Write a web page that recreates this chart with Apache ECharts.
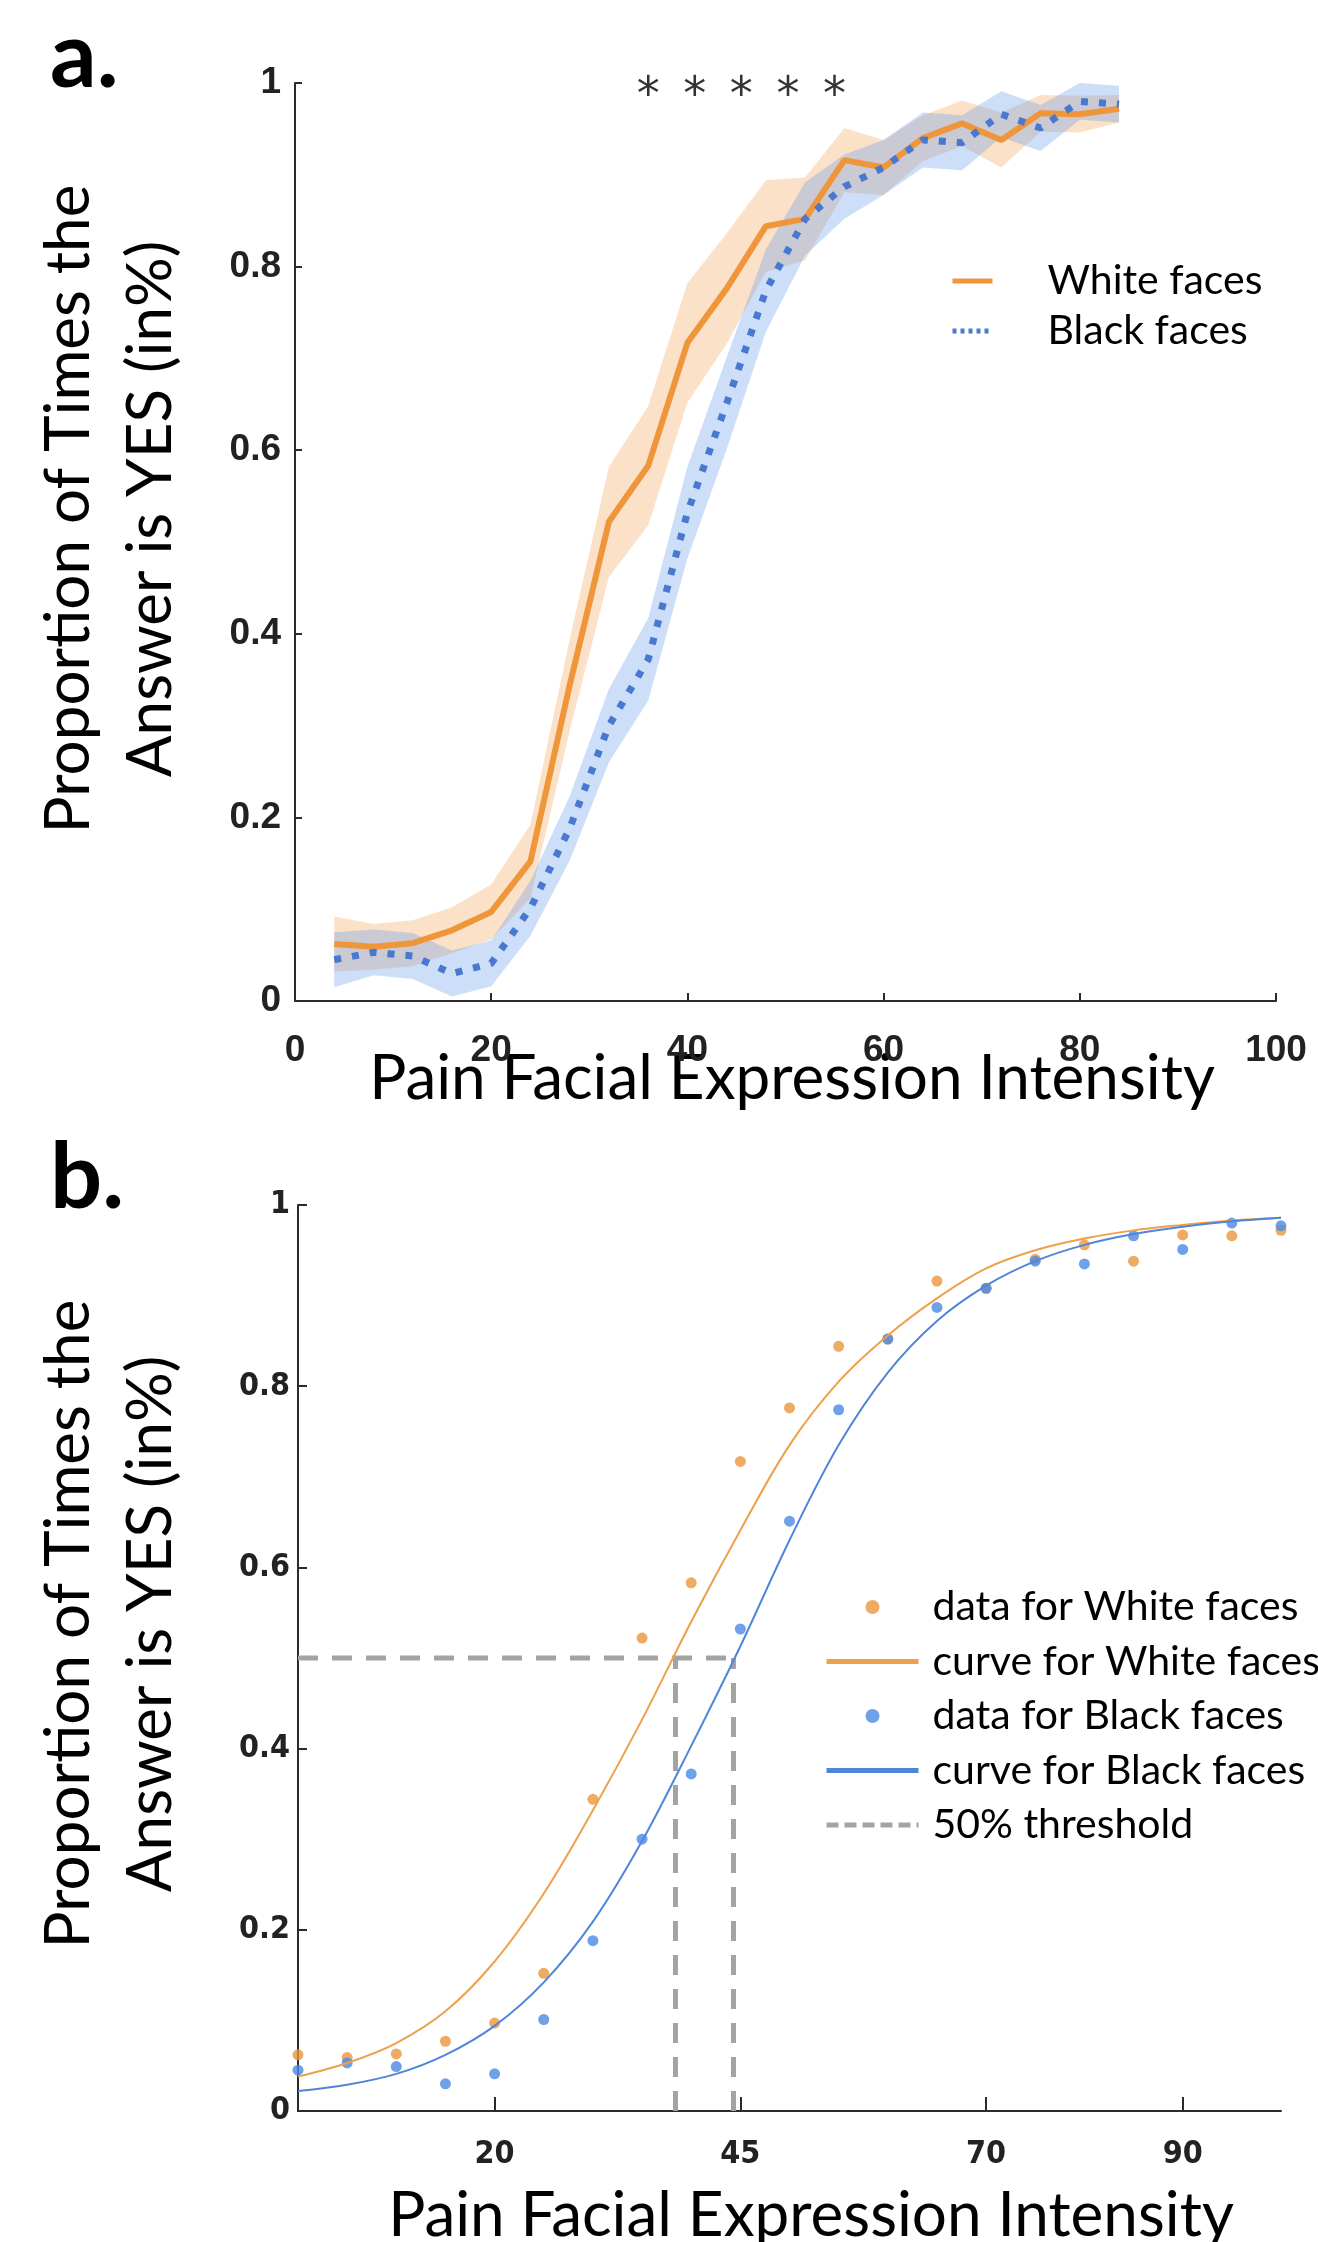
<!DOCTYPE html>
<html>
<head>
<meta charset="utf-8">
<title>Pain Facial Expression Intensity</title>
<script src="https://cdn.jsdelivr.net/npm/echarts/dist/echarts.min.js"></script>
<style>
  html, body { margin: 0; padding: 0; background: #fff; }
  #main { width: 1318px; height: 2242px; }
</style>
</head>
<body>
<div id="main"></div>
<script>
// intensity levels: panel a uses the raw scale, panel b the relabelled one
var intensityA = [4, 8, 12, 16, 20, 24, 28, 32, 36, 40, 44, 48, 52, 56, 60, 64, 68, 72, 76, 80, 84];
var intensityB = [0, 5, 10, 15, 20, 25, 30, 35, 40, 45, 50, 55, 60, 65, 70, 75, 80, 85, 90, 95, 100];

// proportion of YES answers (mean) and its error band
var whiteMean = [0.062, 0.059, 0.063, 0.077, 0.097, 0.152, 0.344, 0.522, 0.583, 0.717, 0.776, 0.844, 0.852, 0.916, 0.908, 0.940, 0.956, 0.938, 0.967, 0.966, 0.972];
var blackMean = [0.045, 0.053, 0.049, 0.030, 0.041, 0.101, 0.188, 0.300, 0.372, 0.532, 0.651, 0.774, 0.852, 0.887, 0.908, 0.938, 0.935, 0.966, 0.951, 0.980, 0.977];
var whiteSem = [0.030, 0.025, 0.025, 0.025, 0.030, 0.040, 0.050, 0.060, 0.065, 0.065, 0.060, 0.050, 0.045, 0.035, 0.030, 0.025, 0.025, 0.030, 0.020, 0.020, 0.015];
var blackSem = [0.030, 0.025, 0.025, 0.025, 0.025, 0.030, 0.035, 0.040, 0.045, 0.050, 0.050, 0.045, 0.040, 0.035, 0.030, 0.030, 0.030, 0.025, 0.025, 0.020, 0.020];

// fitted psychometric curves (read at the panel b intensities)
var whiteCurve = [0.038, 0.053, 0.075, 0.110, 0.165, 0.240, 0.332, 0.432, 0.540, 0.641, 0.735, 0.805, 0.856, 0.897, 0.930, 0.950, 0.963, 0.972, 0.978, 0.983, 0.986];
var blackCurve = [0.022, 0.029, 0.041, 0.062, 0.094, 0.142, 0.209, 0.298, 0.403, 0.513, 0.630, 0.735, 0.815, 0.872, 0.911, 0.938, 0.956, 0.968, 0.976, 0.982, 0.986];

// 50% thresholds of the two curves
var whiteThreshold = 38.4;
var blackThreshold = 44.3;

// significance stars above panel a
var starX = [36, 40.75, 45.5, 50.25, 55];
var starY = 0.985;

// tick values of panel b
var ticksB = [20, 45, 70, 90];

var orange = '#ef953a';
var blue = '#4878cf';
var orangeBand = 'rgba(245,170,100,0.35)';
var blueBand = 'rgba(110,160,235,0.35)';
var txtFont = 'Lato, "Open Sans", sans-serif';
var axisCol = '#2b2b2b';

function pairs(xs, ys) {
	return xs.map(function (x, i) { return [x, ys[i]]; });
}

var whiteLow = whiteMean.map(function (v, i) { return v - whiteSem[i]; });
var whiteHigh = whiteMean.map(function (v, i) { return v + whiteSem[i]; });
var blackLow = blackMean.map(function (v, i) { return v - blackSem[i]; });
var blackHigh = blackMean.map(function (v, i) { return v + blackSem[i]; });

var myChart = echarts.init(document.getElementById('main'));

function yAxisCfg(grid, font, size, margin, tickLen) {
	return {
		gridIndex: grid, type: 'value', min: 0, max: 1, interval: 0.2,
		axisLine: { show: true, lineStyle: { color: axisCol, width: 2 } },
		axisTick: { show: true, inside: true, length: tickLen, lineStyle: { color: axisCol, width: 2 } },
		axisLabel: { fontFamily: font, fontWeight: 'bold', fontSize: size, color: '#222', margin: margin },
		splitLine: { show: false }
	};
}

// shaded error band drawn as one polygon through the axis scales
function band(name, lo, hi, color) {
	return {
		name: name, type: 'custom', xAxisIndex: 0, yAxisIndex: 0, silent: true,
		data: intensityA.map(function (x, i) { return [x, lo[i], hi[i]]; }),
		encode: { x: 0, y: [1, 2] },
		renderItem: function (params, api) {
			if (params.dataIndex !== 0) return null;
			var pts = [];
			for (var i = 0; i < intensityA.length; i++) pts.push(api.coord([intensityA[i], hi[i]]));
			for (var j = intensityA.length - 1; j >= 0; j--) pts.push(api.coord([intensityA[j], lo[j]]));
			return { type: 'polygon', shape: { points: pts }, style: { fill: color } };
		}
	};
}

// hide the symbol that line series put in the middle of their legend icon
var lineLegendItem = { opacity: 0 };

var option = {
	animation: false,
	backgroundColor: '#fff',
	grid: [
		{ left: 295, top: 83, width: 981, height: 918, outerBoundsMode: 'none' },
		{ left: 298, top: 1205, width: 983, height: 906, outerBoundsMode: 'none' }
	],
	xAxis: [
		{
			gridIndex: 0, type: 'value', min: 0, max: 100, interval: 20,
			axisLine: { show: true, lineStyle: { color: axisCol, width: 2 } },
			axisTick: { show: true, inside: true, length: 8, lineStyle: { color: axisCol, width: 2 } },
			axisLabel: { fontFamily: '"Liberation Sans", Arial, sans-serif', fontWeight: 'bold', fontSize: 37, color: '#222', margin: 31 },
			splitLine: { show: false }
		},
		{
			gridIndex: 1, type: 'value', min: 0, max: 100,
			axisLine: { show: true, lineStyle: { color: axisCol, width: 2 } },
			axisTick: { show: true, inside: true, length: 14, customValues: ticksB, lineStyle: { color: axisCol, width: 2 } },
			axisLabel: { customValues: ticksB, fontFamily: '"Liberation Sans Narrow", "DejaVu Sans Condensed", "Liberation Sans", sans-serif', fontWeight: 'bold', fontSize: 32, color: '#222', margin: 28 },
			splitLine: { show: false }
		}
	],
	yAxis: [
		yAxisCfg(0, '"Liberation Sans", Arial, sans-serif', 37, 14, 7),
		yAxisCfg(1, '"Liberation Sans Narrow", "DejaVu Sans Condensed", "Liberation Sans", sans-serif', 32, 8, 9)
	],
	legend: [
		{
			orient: 'vertical', left: 950, top: 259, padding: 0, itemWidth: 40, itemHeight: 14, itemGap: 6,
			selectedMode: false,
			data: [
				{ name: 'White faces', itemStyle: lineLegendItem },
				{ name: 'Black faces', itemStyle: lineLegendItem, lineStyle: { type: [4, 4] } }
			],
			lineStyle: { width: 5 },
			textStyle: { fontFamily: txtFont, fontSize: 41, lineHeight: 44, color: '#000', padding: [0, 0, 0, 50] }
		},
		{
			orient: 'vertical', left: 824, top: 1585, padding: 0, itemWidth: 92, itemHeight: 14, itemGap: 10.5,
			selectedMode: false,
			data: [
				'data for White faces',
				{ name: 'curve for White faces', itemStyle: lineLegendItem },
				'data for Black faces',
				{ name: 'curve for Black faces', itemStyle: lineLegendItem },
				{ name: '50% threshold', itemStyle: lineLegendItem, lineStyle: { type: [12, 6] } }
			],
			lineStyle: { width: 5 },
			textStyle: { fontFamily: txtFont, fontSize: 41, lineHeight: 44, color: '#000', padding: [0, 0, 0, 9] }
		}
	],
	graphic: { elements: [
		{ type: 'text', x: 50, y: 57, style: { text: 'a.', font: 'bold 92px ' + txtFont, fill: '#000', align: 'left', verticalAlign: 'middle' } },
		{ type: 'text', x: 50, y: 1178, style: { text: 'b.', font: 'bold 92px ' + txtFont, fill: '#000', align: 'left', verticalAlign: 'middle' } },
		{ type: 'text', x: 110, y: 509, rotation: Math.PI / 2, style: { text: 'Proportion of Times the\nAnswer is YES (in%)', font: '62px ' + txtFont, lineHeight: 82, fill: '#000', align: 'center', verticalAlign: 'middle' } },
		{ type: 'text', x: 110, y: 1624, rotation: Math.PI / 2, style: { text: 'Proportion of Times the\nAnswer is YES (in%)', font: '62px ' + txtFont, lineHeight: 82, fill: '#000', align: 'center', verticalAlign: 'middle' } },
		{ type: 'text', x: 792, y: 1079, style: { text: 'Pain Facial Expression Intensity', font: '62px ' + txtFont, fill: '#000', align: 'center', verticalAlign: 'middle' } },
		{ type: 'text', x: 811, y: 2216, style: { text: 'Pain Facial Expression Intensity', font: '62px ' + txtFont, fill: '#000', align: 'center', verticalAlign: 'middle' } }
	] },
	series: [
		// panel a: error bands
		band('whiteBand', whiteLow, whiteHigh, orangeBand),
		band('blackBand', blackLow, blackHigh, blueBand),
		// panel a: mean lines
		{
			name: 'White faces', type: 'line', xAxisIndex: 0, yAxisIndex: 0,
			data: pairs(intensityA, whiteMean), symbol: 'none',
			itemStyle: { color: orange },
			lineStyle: { color: orange, width: 6 }
		},
		{
			name: 'Black faces', type: 'line', xAxisIndex: 0, yAxisIndex: 0,
			data: pairs(intensityA, blackMean), symbol: 'none',
			itemStyle: { color: blue },
			lineStyle: { color: blue, width: 7, type: [7, 11] }
		},
		{
			name: 'stars', type: 'scatter', xAxisIndex: 0, yAxisIndex: 0,
			data: starX.map(function (x) { return [x, starY]; }),
			symbolSize: 1, itemStyle: { color: 'transparent' }, silent: true,
			label: { show: true, position: 'inside', formatter: '*', fontFamily: '"DejaVu Sans", sans-serif', fontSize: 46, color: '#000' }
		},
		// panel b: thresholds
		{
			name: '50% threshold', type: 'line', xAxisIndex: 1, yAxisIndex: 1,
			data: [[0, 0.5], [blackThreshold, 0.5]], symbol: 'none',
			itemStyle: { color: '#a3a3a3' },
			lineStyle: { color: '#a3a3a3', width: 5, type: [20, 14] }
		},
		{
			name: '50% threshold', type: 'line', xAxisIndex: 1, yAxisIndex: 1,
			data: [[whiteThreshold, 0], [whiteThreshold, 0.5]], symbol: 'none',
			lineStyle: { color: '#a3a3a3', width: 5, type: [20, 14] }
		},
		{
			name: '50% threshold', type: 'line', xAxisIndex: 1, yAxisIndex: 1,
			data: [[blackThreshold, 0], [blackThreshold, 0.5]], symbol: 'none',
			lineStyle: { color: '#a3a3a3', width: 5, type: [20, 14] }
		},
		// panel b: data and fitted curves
		{
			name: 'data for White faces', type: 'scatter', xAxisIndex: 1, yAxisIndex: 1,
			data: pairs(intensityB, whiteMean), symbol: 'circle', symbolSize: 11,
			itemStyle: { color: '#e8963c' }
		},
		{
			name: 'curve for White faces', type: 'line', xAxisIndex: 1, yAxisIndex: 1,
			data: pairs(intensityB, whiteCurve), symbol: 'none', smooth: 0.35,
			itemStyle: { color: '#eea04a' },
			lineStyle: { color: '#eea04a', width: 2 }
		},
		{
			name: 'data for Black faces', type: 'scatter', xAxisIndex: 1, yAxisIndex: 1,
			data: pairs(intensityB, blackMean), symbol: 'circle', symbolSize: 11,
			itemStyle: { color: '#4a8ae4' }
		},
		{
			name: 'curve for Black faces', type: 'line', xAxisIndex: 1, yAxisIndex: 1,
			data: pairs(intensityB, blackCurve), symbol: 'none', smooth: 0.35,
			itemStyle: { color: '#4f86d9' },
			lineStyle: { color: '#4f86d9', width: 2 }
		}
	]
};

myChart.setOption(option);
</script>
</body>
</html>
